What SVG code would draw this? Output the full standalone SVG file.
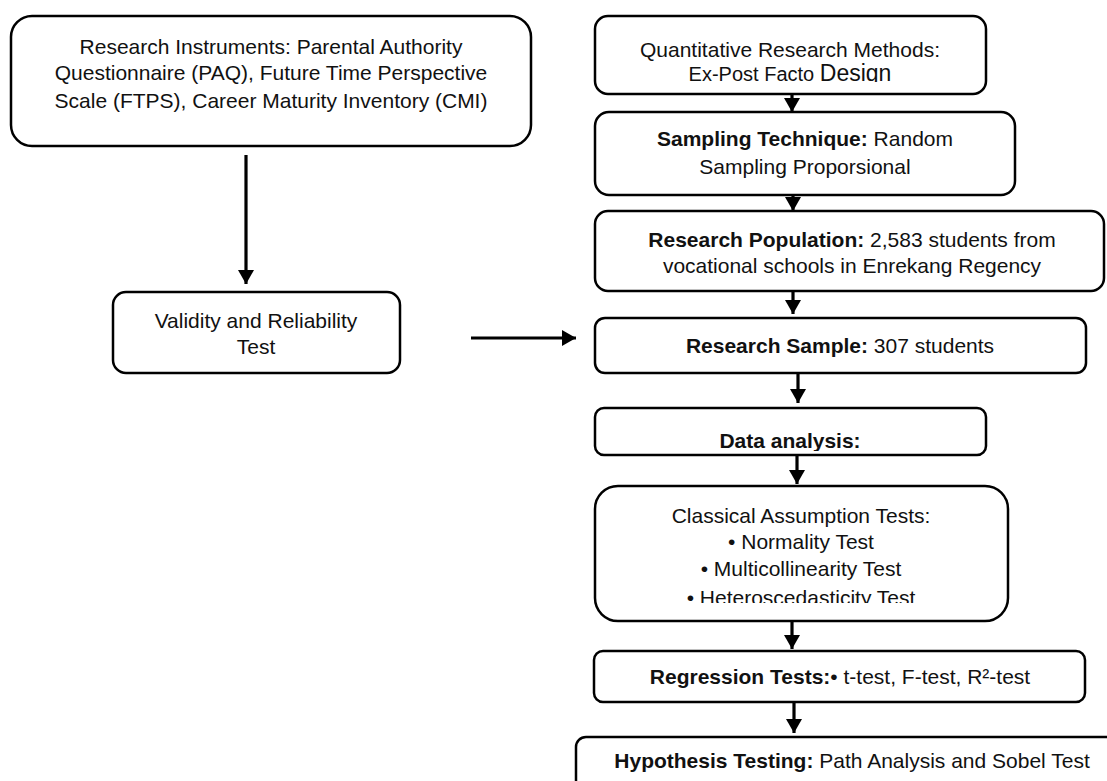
<svg xmlns="http://www.w3.org/2000/svg" width="1107" height="781" viewBox="0 0 1107 781">
<style>
.box{fill:#fff;stroke:#000;stroke-width:2.5}
text{font-family:"Liberation Sans",Arial,sans-serif;font-size:21px;fill:#111;text-anchor:middle}
.b{font-weight:bold}
.conn{stroke:#000;stroke-width:3.2;fill:none}
</style>
<defs>
<marker id="ah" markerUnits="userSpaceOnUse" markerWidth="16" markerHeight="16" refX="14" refY="8" orient="auto">
<path d="M0,0 L14,8 L0,16 Z" fill="#000"/>
</marker>
<clipPath id="c1"><rect x="595" y="16" width="391" height="66"/></clipPath>
<clipPath id="c2"><rect x="595" y="408" width="391" height="43"/></clipPath>
<clipPath id="c3"><rect x="595" y="486" width="413" height="117"/></clipPath>
</defs>
<rect width="1107" height="781" fill="#fff"/>
<g id="instruments">
<rect class="box" x="11" y="16" width="520" height="130" rx="21"/>
<text x="271" y="54">Research Instruments: Parental Authority</text>
<text x="271" y="80">Questionnaire (PAQ), Future Time Perspective</text>
<text x="271" y="108">Scale (FTPS), Career Maturity Inventory (CMI)</text>
</g>
<g id="validity">
<rect class="box" x="113" y="292" width="287" height="81" rx="13"/>
<text x="256" y="328">Validity and Reliability</text>
<text x="256" y="354">Test</text>
</g>
<g id="methods">
<rect class="box" x="595" y="16" width="391" height="78" rx="13"/>
<text x="790" y="57">Quantitative Research Methods:</text>
<text x="790" y="81" clip-path="url(#c1)"><tspan font-size="20">Ex-Post Facto </tspan><tspan font-size="23">Design</tspan></text>
</g>
<g id="sampling">
<rect class="box" x="595" y="112" width="420" height="83" rx="14"/>
<text x="805" y="146"><tspan class="b">Sampling Technique:</tspan> Random</text>
<text x="805" y="174">Sampling Proporsional</text>
</g>
<g id="population">
<rect class="box" x="595" y="211" width="509" height="80" rx="13"/>
<text x="852" y="247"><tspan class="b">Research Population:</tspan> 2,583 students from</text>
<text x="852" y="273">vocational schools in Enrekang Regency</text>
</g>
<g id="sample">
<rect class="box" x="595" y="318" width="491" height="55" rx="10"/>
<text x="840" y="353"><tspan class="b">Research Sample:</tspan> 307 students</text>
</g>
<g id="analysis">
<rect class="box" x="595" y="408" width="391" height="47" rx="9"/>
<text x="790" y="448" class="b" clip-path="url(#c2)">Data analysis:</text>
</g>
<g id="assumptions">
<rect class="box" x="595" y="486" width="413" height="135" rx="23"/>
<text x="801" y="523">Classical Assumption Tests:</text>
<text x="801" y="549">• Normality Test</text>
<text x="801" y="576">• Multicollinearity Test</text>
<text x="801" y="605" clip-path="url(#c3)">• Heteroscedasticity Test</text>
</g>
<g id="regression">
<rect class="box" x="594" y="651" width="491" height="51" rx="9"/>
<text x="840" y="684"><tspan class="b">Regression Tests:</tspan>• t-test, F-test, R²-test</text>
</g>
<g id="hypothesis">
<rect class="box" x="576" y="737" width="548" height="70" rx="10"/>
<text x="852" y="768"><tspan class="b">Hypothesis Testing:</tspan> Path Analysis and Sobel Test</text>
</g>
<g id="connectors">
<line class="conn" x1="246" y1="155" x2="246" y2="284" marker-end="url(#ah)"/>
<line class="conn" x1="471" y1="338" x2="576" y2="338" marker-end="url(#ah)"/>
<line class="conn" x1="792" y1="94" x2="792" y2="112" marker-end="url(#ah)"/>
<line class="conn" x1="793" y1="195" x2="793" y2="211" marker-end="url(#ah)"/>
<line class="conn" x1="793" y1="291" x2="793" y2="314" marker-end="url(#ah)"/>
<line class="conn" x1="798" y1="373" x2="798" y2="403" marker-end="url(#ah)"/>
<line class="conn" x1="797" y1="455" x2="797" y2="484" marker-end="url(#ah)"/>
<line class="conn" x1="792" y1="621" x2="792" y2="649" marker-end="url(#ah)"/>
<line class="conn" x1="794" y1="702" x2="794" y2="733" marker-end="url(#ah)"/>
</g>
</svg>
